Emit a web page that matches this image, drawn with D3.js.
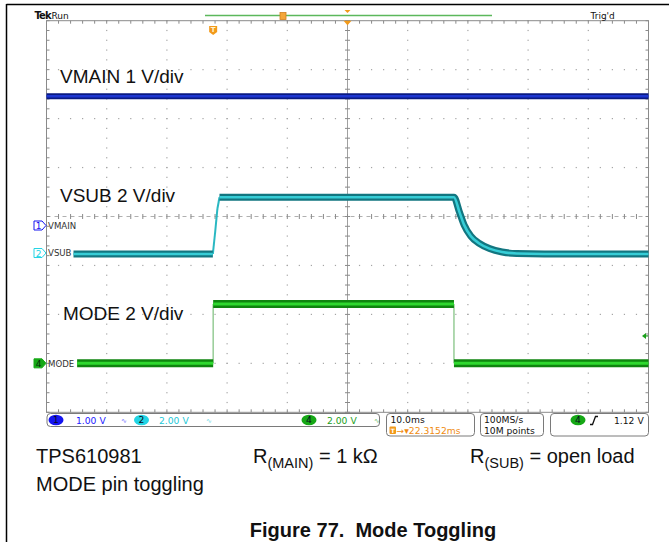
<!DOCTYPE html>
<html><head><meta charset="utf-8">
<script src="https://cdn.jsdelivr.net/npm/d3@7"></script>
<style>body{margin:0;background:#fff}svg{display:block}text{white-space:pre}</style>
</head><body><svg id="c" width="669" height="542"></svg>
<script>
// ---------- data ----------
const timeWindow = [-27.6848, 72.3152];      // ms shown on screen (10 ms/div, T->center 22.3152 ms)
const divRange = [-4, 4];                     // vertical divisions
const channelNames = ["VMAIN", "VSUB", "MODE"];
const channelNums = [1, 2, 4];
const voltsPerDiv = [1, 2, 2];
const offsetDiv = [-0.184, -0.746, -3.0];
const channelTitles = ["VMAIN 1 V/div", "VSUB 2 V/div", "MODE 2 V/div"];
const vmainT = [-27.68, 72.31];
const vmainV = [2.64, 2.64];
const vsubT = [-23.2, -0.05, 0.35, 0.7, 1.05, 40.0, 40.9, 41.7, 42.8, 44.2, 45.9, 48.0, 50.4, 55.0, 72.31];
const vsubV = [-0.04, -0.04, 0.9, 1.8, 2.28, 2.28, 1.68, 1.14, 0.69, 0.39, 0.18, 0.04, -0.02, -0.04, -0.04];
const modeT = [-22.6, 0, 0, 40.0, 40.0, 72.31];
const modeV = [0, 0, 2.42, 2.42, 0, 0];
const trigLevel = 1.12;
const statusScale = ["1.00 V", "2.00 V", "2.00 V"];
const timebase = "10.0ms";
const trigDelay = "22.3152ms";
const sampleInfo = ["100MS/s", "10M points"];
const trigLabel = "1.12 V";
const captionLine1 = ["TPS610981", "R", "(MAIN)", " = 1 kΩ", "R", "(SUB)", " = open load"];
const captionLine2 = "MODE pin toggling";
const figureTitle = "Figure 77.  Mode Toggling";

// ---------- layout ----------
const svg = d3.select("#c");
const P = {l: 46.5, r: 648.5, t: 20.7, b: 412.3};
const x = d3.scaleLinear().domain(timeWindow).range([P.l, P.r]);
const yd = d3.scaleLinear().domain(divRange).range([P.b, P.t]);
const xDiv = d3.scaleLinear().domain([0, 10]).range([P.l, P.r]);
const chY = (i, v) => yd(offsetDiv[i] + v / voltsPerDiv[i]);

const edgeCol = ["#0a1a82", "#127680", "#0f850f"];
const coreCol = ["#1d36d0", "#36cdd6", "#2fd82f"];
const thinCol = ["#1d36d0", "#2ab8c2", "#86c486"];
const bandW = [6, 7, 8];
const coreW = [2.4, 2.6, 3];
const labelCol = ["#1a1aff", "#1cc8d8", "#1aa01a"];
const badgeCol = ["#1414f0", "#22d4e4", "#16a816"];

// page border
svg.append("line").attr("x1", 6.5).attr("x2", 669).attr("y1", 4.5).attr("y2", 4.5).attr("stroke", "#000").attr("stroke-width", 1.5);
svg.append("line").attr("x1", 6.5).attr("x2", 6.5).attr("y1", 4).attr("y2", 542).attr("stroke", "#000").attr("stroke-width", 1.5);

// ---------- grid ----------
const g = svg.append("g");
const dotCol = "#a5a5a5";
const dots = [];
for (let i = 1; i < 10; i++) { if (i === 5) continue; for (let j = 0; j <= 40; j++) dots.push([xDiv(i), yd(-4 + j / 5)]); }
for (let k = -3; k <= 3; k++) { if (k === 0) continue; for (let j = 0; j <= 50; j++) dots.push([xDiv(j / 5), yd(k)]); }
g.selectAll("rect.d").data(dots).join("rect").attr("x", d => d[0] - 0.6).attr("y", d => d[1] - 0.6).attr("width", 1.2).attr("height", 1.2).attr("fill", dotCol);
// center cross
g.append("line").attr("x1", xDiv(5)).attr("x2", xDiv(5)).attr("y1", P.t).attr("y2", P.b).attr("stroke", "#a0a0a0").attr("stroke-width", 1);
g.append("line").attr("x1", P.l).attr("x2", P.r).attr("y1", yd(0)).attr("y2", yd(0)).attr("stroke", "#b0b0b0").attr("stroke-width", 1).attr("stroke-dasharray", "4,4");
const tk = [];
for (let j = 0; j <= 40; j++) { const yy = yd(-4 + j / 5); tk.push([xDiv(5) - 2.5, yy, xDiv(5) + 2.5, yy]); tk.push([P.l, yy, P.l + 3, yy]); tk.push([P.r - 3, yy, P.r, yy]); }
for (let j = 0; j <= 50; j++) { const xx = xDiv(j / 5); tk.push([xx, yd(0) - 2.5, xx, yd(0) + 2.5]); tk.push([xx, P.t, xx, P.t + 3]); tk.push([xx, P.b - 3, xx, P.b]); }
g.selectAll("line.t").data(tk).join("line").attr("x1", d => d[0]).attr("y1", d => d[1]).attr("x2", d => d[2]).attr("y2", d => d[3]).attr("stroke", "#8a8a8a").attr("stroke-width", 1);
g.append("rect").attr("x", P.l).attr("y", P.t).attr("width", P.r - P.l).attr("height", P.b - P.t).attr("fill", "none").attr("stroke", "#8a8a8a").attr("stroke-width", 1);

// ---------- traces ----------
const series = [[vmainT, vmainV], [vsubT, vsubV], [modeT, modeV]];
series.forEach(([T, V], i) => {
  const pts = T.map((t, k) => [x(t), chY(i, V[k])]);
  let run = [pts[0]];
  const runs = [], steep = [];
  for (let k = 1; k < pts.length; k++) {
    const dx = Math.abs(pts[k][0] - pts[k - 1][0]), dy = Math.abs(pts[k][1] - pts[k - 1][1]);
    if (dy > 3 * dx && dy > 2) {
      if (run.length > 1) runs.push(run);
      steep.push([pts[k - 1], pts[k]]);
      run = [pts[k]];
    } else run.push(pts[k]);
  }
  if (run.length > 1) runs.push(run);
  const tg = svg.append("g");
  const ln = d3.line().curve(d3.curveMonotoneX);
  const lnS = d3.line();
  steep.forEach(s => tg.append("path").attr("d", lnS(s)).attr("fill", "none").attr("stroke", thinCol[i]).attr("stroke-width", i === 1 ? 2 : 1.3));
  runs.forEach(r => {
    tg.append("path").attr("d", ln(r)).attr("fill", "none").attr("stroke", edgeCol[i]).attr("stroke-width", bandW[i]).attr("stroke-linejoin", "round");
    tg.append("path").attr("d", ln(r)).attr("fill", "none").attr("stroke", coreCol[i]).attr("stroke-width", coreW[i]).attr("stroke-linejoin", "round");
  });
});

// channel titles
channelTitles.forEach((s, i) => {
  const pos = [[60, 83.3], [60, 201.7], [63, 320]][i];
  svg.append("text").attr("x", pos[0]).attr("y", pos[1]).text(s).attr("font-family", "Liberation Sans, Arial, sans-serif").attr("font-size", 19).attr("fill", "#111");
});

// channel ground markers
channelNames.forEach((n, i) => {
  const yy = chY(i, 0);
  const mg = svg.append("g");
  const filled = i === 2;
  mg.append("path").attr("d", `M34,${yy - 4.5}H42L46,${yy}L42,${yy + 4.5}H34Z`).attr("fill", filled ? badgeCol[i] : "#fff").attr("stroke", badgeCol[i]).attr("stroke-width", 1);
  mg.append("text").attr("x", 38.5).attr("y", yy + 3.5).attr("text-anchor", "middle").text(channelNums[i]).attr("font-family", "DejaVu Sans, sans-serif").attr("font-size", 9).attr("fill", filled ? "#0a2a0a" : badgeCol[i]);
  mg.append("text").attr("x", 48).attr("y", yy + 3.3).text(n).attr("font-family", "DejaVu Sans, sans-serif").attr("font-size", 8.6).attr("fill", "#333");
});

// trigger level marker (right)
{
  const yy = chY(2, trigLevel);
  svg.append("path").attr("d", `M642,${yy}L646,${yy - 3}V${yy + 3}Z`).attr("fill", "#1aa01a");
  svg.append("line").attr("x1", 645).attr("x2", 648).attr("y1", yy).attr("y2", yy).attr("stroke", "#1aa01a").attr("stroke-width", 1.2);
}

// trigger "T" marker at trigger time
{
  const tx = x(0);
  svg.append("path").attr("d", `M${tx - 4},26H${tx + 4}V32L${tx},35L${tx - 4},32Z`).attr("fill", "#f29a1a");
  svg.append("text").attr("x", tx).attr("y", 32).attr("text-anchor", "middle").text("T").attr("font-family", "DejaVu Sans, sans-serif").attr("font-weight", "bold").attr("font-size", 7).attr("fill", "#fff3d0");
}
// top indicators
svg.append("line").attr("x1", 205).attr("x2", 492).attr("y1", 15.5).attr("y2", 15.5).attr("stroke", "#5cb85c").attr("stroke-width", 1.5);
svg.append("rect").attr("x", 280).attr("y", 12.5).attr("width", 6).attr("height", 7).attr("fill", "#f4a63a").attr("stroke", "#d08020").attr("stroke-width", 0.8);
svg.append("path").attr("d", `M${xDiv(5) - 3},10H${xDiv(5) + 3}L${xDiv(5)},13Z`).attr("fill", "#f29a1a");
svg.append("path").attr("d", `M${xDiv(5) - 4},${P.t}H${xDiv(5) + 4}L${xDiv(5)},${P.t + 4.5}Z`).attr("fill", "#f29a1a");

const mono = "DejaVu Sans, sans-serif";
svg.append("text").attr("x", 34.5).attr("y", 19).text("Tek").attr("font-family", mono).attr("font-weight", "bold").attr("font-size", 10).attr("letter-spacing", -0.9).attr("fill", "#111");
svg.append("text").attr("x", 51.5).attr("y", 19).text("Run").attr("font-family", mono).attr("font-size", 9).attr("fill", "#111");
svg.append("text").attr("x", 590.5).attr("y", 19).text("Trig'd").attr("font-family", mono).attr("font-size", 9).attr("fill", "#111");

// ---------- status bar ----------
const sb = svg.append("g").attr("font-family", mono).attr("font-size", 9.2);
const box = (x0, x1, y0, y1) => sb.append("rect").attr("x", x0).attr("y", y0).attr("width", x1 - x0).attr("height", y1 - y0).attr("rx", 3.5).attr("fill", "#fff").attr("stroke", "#7a7a7a").attr("stroke-width", 1);
box(47, 379.5, 413.5, 426.5);
box(386.5, 474.5, 413.5, 436);
box(480.5, 543.5, 413.5, 436);
box(550.5, 648.5, 413.5, 436);
const badgeX = [56, 141.5, 309];
const valX = [76, 159, 327];
const bwX = [121, 206, 374];
[0, 1, 2].forEach(i => {
  sb.append("ellipse").attr("cx", badgeX[i]).attr("cy", 420).attr("rx", 7.5).attr("ry", 5.3).attr("fill", badgeCol[i]);
  sb.append("text").attr("x", badgeX[i]).attr("y", 423.3).attr("text-anchor", "middle").text(channelNums[i]).attr("fill", "#0a0a20");
  sb.append("text").attr("x", valX[i]).attr("y", 423.8).text(statusScale[i]).attr("fill", labelCol[i]);
  sb.append("text").attr("x", bwX[i]).attr("y", 422.5).text("∿").attr("font-size", 7).attr("fill", labelCol[i]).attr("opacity", 0.7);
});
sb.append("text").attr("x", 390.5).attr("y", 423.3).text(timebase).attr("fill", "#111");
sb.append("rect").attr("x", 389.5).attr("y", 426.5).attr("width", 6.5).attr("height", 7.5).attr("rx", 1).attr("fill", "#f29a1a");
sb.append("text").attr("x", 392.7).attr("y", 433).attr("text-anchor", "middle").text("T").attr("font-size", 6).attr("font-weight", "bold").attr("fill", "#fff");
sb.append("text").attr("x", 396.5).attr("y", 433.8).text("→▾" + trigDelay).attr("fill", "#f08c10");
sb.append("text").attr("x", 484).attr("y", 423.3).text(sampleInfo[0]).attr("fill", "#111");
sb.append("text").attr("x", 484).attr("y", 433.8).text(sampleInfo[1]).attr("fill", "#111");
sb.append("ellipse").attr("cx", 578).attr("cy", 420).attr("rx", 7.5).attr("ry", 5.3).attr("fill", badgeCol[2]);
sb.append("text").attr("x", 578).attr("y", 423.3).attr("text-anchor", "middle").text(channelNums[2]).attr("fill", "#0a0a20");
sb.append("path").attr("d", "M590,424.5H592.5L595.5,416.5H598").attr("fill", "none").attr("stroke", "#111").attr("stroke-width", 1.3);
sb.append("text").attr("x", 614).attr("y", 423.8).text(trigLabel).attr("fill", "#111");

// ---------- caption ----------
const cap = svg.append("g").attr("font-family", "Liberation Sans, Arial, sans-serif").attr("font-size", 20).attr("fill", "#111");
cap.append("text").attr("x", 36).attr("y", 463).text(captionLine1[0]);
const r1 = cap.append("text").attr("x", 253).attr("y", 463);
r1.append("tspan").text(captionLine1[1]);
r1.append("tspan").attr("font-size", 14.5).attr("dy", 5).text(captionLine1[2]);
r1.append("tspan").attr("dy", -5).text(captionLine1[3]);
const r2 = cap.append("text").attr("x", 470).attr("y", 463);
r2.append("tspan").text(captionLine1[4]);
r2.append("tspan").attr("font-size", 14.5).attr("dy", 5).text(captionLine1[5]);
r2.append("tspan").attr("dy", -5).text(captionLine1[6]);
cap.append("text").attr("x", 36).attr("y", 491).text(captionLine2);
cap.append("text").attr("x", 373).attr("y", 537).attr("text-anchor", "middle").attr("font-weight", "bold").text(figureTitle);
</script></body></html>
